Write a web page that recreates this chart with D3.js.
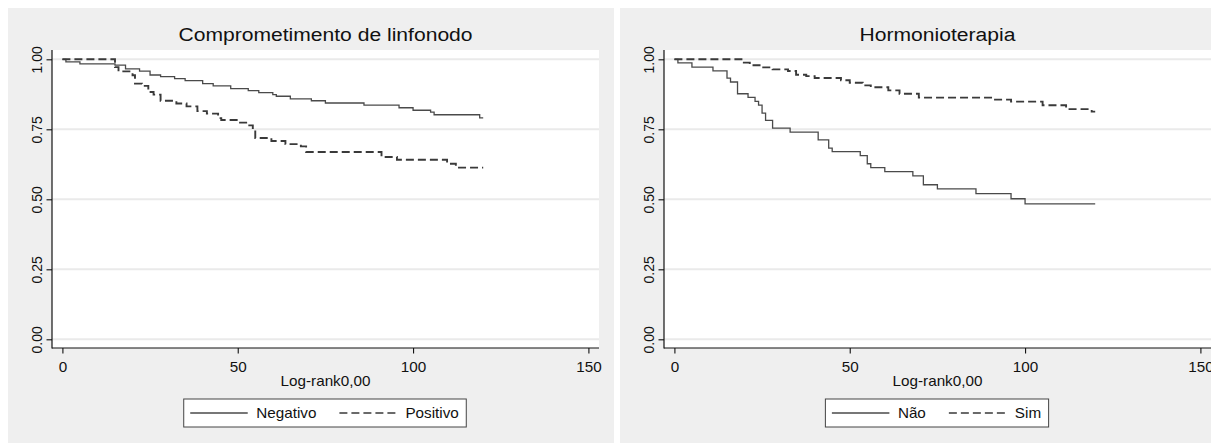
<!DOCTYPE html>
<html><head><meta charset="utf-8">
<script src="https://cdn.jsdelivr.net/npm/d3@7"></script>
<style>
body{margin:0;background:#fff}
svg{display:block}
text{font-family:"Liberation Sans",Arial,sans-serif;fill:#111}
</style>
</head><body>
<svg id="chart" width="1211" height="443"></svg>
<script>
// ---- data ----
const xTicks = [0, 50, 100, 150];
const yTicks = [0, 0.25, 0.5, 0.75, 1];
const xAxisLabel = "Log-rank0,00";

const titleLinf = "Comprometimento de linfonodo";
const groupsLinf = ["Negativo", "Positivo"];
const negTime = [0, 1, 5, 15, 18, 22, 25, 28, 32, 35, 40, 43, 48, 53, 56, 60, 61, 65, 71, 75, 86, 96, 100, 105, 106, 119, 120];
const negSurv = [1, 0.991, 0.984, 0.979, 0.966, 0.958, 0.944, 0.938, 0.931, 0.924, 0.913, 0.905, 0.895, 0.888, 0.881, 0.874, 0.868, 0.859, 0.852, 0.844, 0.836, 0.827, 0.818, 0.811, 0.802, 0.791, 0.791];
const posTime = [0, 15, 16, 20, 20.7, 22.7, 24.5, 26, 28, 32.5, 35.4, 38.5, 41.2, 44.4, 45.3, 50, 53, 54.3, 55, 59.6, 63.6, 68, 69.5, 91, 95.4, 109.7, 112.2, 120];
const posSurv = [1, 0.972, 0.957, 0.943, 0.913, 0.905, 0.883, 0.874, 0.852, 0.842, 0.832, 0.815, 0.806, 0.790, 0.783, 0.774, 0.764, 0.750, 0.719, 0.708, 0.697, 0.689, 0.669, 0.651, 0.641, 0.627, 0.613, 0.613];

const titleHorm = "Hormonioterapia";
const groupsHorm = ["Não", "Sim"];
const naoTime = [0, 1, 5, 11, 15, 16, 18, 21, 23, 24, 25, 26, 28, 33, 41, 44, 45, 53, 55, 56, 60, 68, 71, 75, 86, 96, 100, 120];
const naoSurv = [1, 0.987, 0.972, 0.959, 0.933, 0.919, 0.877, 0.864, 0.850, 0.836, 0.808, 0.782, 0.754, 0.740, 0.712, 0.683, 0.670, 0.656, 0.627, 0.613, 0.599, 0.584, 0.552, 0.537, 0.520, 0.502, 0.484, 0.484];
const simTime = [0, 19.8, 21.5, 25, 28, 32.4, 34.7, 37.6, 40, 47.5, 50, 53.7, 56, 61, 64.2, 69.7, 91, 96, 105, 111.7, 119, 120];
const simSurv = [1, 0.988, 0.979, 0.971, 0.964, 0.958, 0.945, 0.940, 0.933, 0.925, 0.916, 0.907, 0.900, 0.889, 0.877, 0.863, 0.856, 0.849, 0.836, 0.822, 0.813, 0.813];

// ---- drawing ----
const svg = d3.select("#chart");
const SX = 1.09;          // horizontal stretch of the text glyphs
const FS = 14;            // base font size
const styles = [
  {dash: null, width: 1.3, color: "#4a4a4a"},
  {dash: "8,4", width: 1.9, color: "#3a3a3a"}
];

function stretchedText(g, x, y, str, size, anchor, sx) {
  const t = g.append("g").attr("transform", `translate(${x},${y})`)
    .append("text")
    .attr("transform", `scale(${sx},1)`)
    .attr("text-anchor", anchor)
    .style("font-size", size + "px")
    .text(str);
  return t;
}

function drawPanel(ox, title, groups, series) {
  const g = svg.append("g").attr("transform", `translate(${ox},0)`);
  const L = 52, R = 599, T = 50, B = 348;
  g.append("rect").attr("x", 8).attr("y", 8).attr("width", 606).attr("height", 440).attr("fill", "#efefef");
  g.append("rect").attr("x", L).attr("y", T).attr("width", R - L).attr("height", B - T).attr("fill", "#fff");

  const x = d3.scaleLinear().domain([0, 150]).range([62.4, 588.4]);
  const y = d3.scaleLinear().domain([0, 1]).range([339.3, 59.3]);

  // grid
  g.append("g").selectAll("line").data(yTicks).join("line")
    .attr("x1", L).attr("x2", R)
    .attr("y1", d => y(d)).attr("y2", d => y(d))
    .attr("stroke", "#eaeaea").attr("stroke-width", 2);

  // curves
  const line = d3.line().x(d => x(d[0])).y(d => y(d[1])).curve(d3.curveStepAfter);
  series.forEach((s, i) => {
    const st = styles[i];
    g.append("path").datum(d3.zip(s.time, s.surv))
      .attr("d", line).attr("fill", "none")
      .attr("stroke", st.color).attr("stroke-width", st.width)
      .attr("stroke-dasharray", st.dash);
  });

  // axes
  const ya = g.append("g").attr("transform", `translate(${L},0)`)
    .call(d3.axisLeft(y).tickValues(yTicks).tickSize(5.5).tickSizeOuter(0).tickFormat(d3.format(".2f")));
  ya.select(".domain").remove();
  ya.selectAll(".tick line").attr("stroke", "#111").attr("stroke-width", 1.1);
  ya.selectAll(".tick text")
    .attr("transform", "rotate(-90)")
    .attr("x", 0).attr("y", -10.5).attr("dy", null)
    .attr("text-anchor", "middle")
    .attr("font-family", null).attr("font-size", null)
    .style("font-size", FS + "px").attr("fill", "#111");

  const xa = g.append("g").attr("transform", `translate(0,${B})`)
    .call(d3.axisBottom(x).tickValues(xTicks).tickSize(5.5).tickSizeOuter(0));
  xa.select(".domain").remove();
  xa.selectAll(".tick line").attr("stroke", "#111").attr("stroke-width", 1.1);
  xa.selectAll(".tick text")
    .attr("y", 24).attr("dy", null)
    .attr("transform", `scale(${SX},1)`)
    .attr("font-family", null).attr("font-size", null)
    .style("font-size", FS + "px").attr("fill", "#111");

  // frame
  g.append("line").attr("x1", L).attr("x2", L).attr("y1", T).attr("y2", B + 0.5).attr("stroke", "#111").attr("stroke-width", 1.2);
  g.append("line").attr("x1", L).attr("x2", R).attr("y1", B).attr("y2", B).attr("stroke", "#111").attr("stroke-width", 1.2);

  const cx = (L + R) / 2;
  stretchedText(g, cx, 41, title, 19, "middle", 1.11).attr("fill", "#222");
  stretchedText(g, cx, 386, xAxisLabel, FS, "middle", SX);

  // legend
  const lg = g.append("g");
  const ly = 413;
  const box = lg.append("rect").attr("fill", "#fff").attr("stroke", "#444").attr("stroke-width", 1);
  const pad = 6.5, sample = 57.5, gapT = 8.5, gapItem = 23, padR = 7.5;
  let cur = 0;
  const items = [];
  groups.forEach((lab, i) => {
    if (i > 0) cur += gapItem;
    const x0 = cur + (i === 0 ? pad : 0);
    const st = styles[i];
    const ln = lg.append("line").attr("y1", ly).attr("y2", ly)
      .attr("stroke", st.color).attr("stroke-width", 1.6)
      .attr("stroke-dasharray", st.dash);
    const t = stretchedText(lg, 0, ly + 5, lab, FS, "start", SX);
    const w = t.node().getComputedTextLength() * SX;
    items.push({ln, t, lx: x0, tx: x0 + sample + gapT});
    cur = x0 + sample + gapT + w;
  });
  const total = cur + padR;
  const left = cx - 0.5 - total / 2;
  box.attr("x", left).attr("y", 399).attr("width", total).attr("height", 28);
  items.forEach(it => {
    it.ln.attr("x1", left + it.lx).attr("x2", left + it.lx + sample);
    d3.select(it.t.node().parentNode).attr("transform", `translate(${left + it.tx},${ly + 5})`);
  });
}

drawPanel(0, titleLinf, groupsLinf, [
  {time: negTime, surv: negSurv},
  {time: posTime, surv: posSurv}
]);
drawPanel(612, titleHorm, groupsHorm, [
  {time: naoTime, surv: naoSurv},
  {time: simTime, surv: simSurv}
]);
</script>
</body></html>
